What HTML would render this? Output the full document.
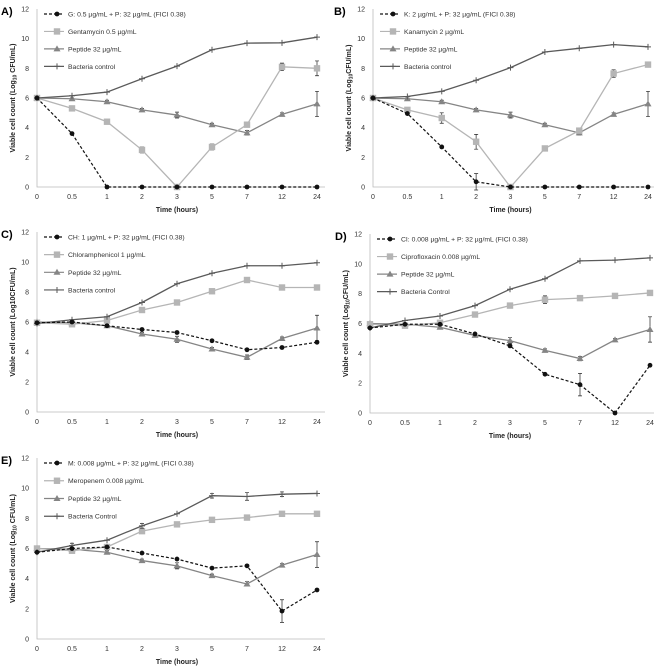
<!DOCTYPE html>
<html><head><meta charset="utf-8">
<style>
html,body{margin:0;padding:0;background:#fff;}
svg{display:block;font-family:"Liberation Sans",Arial,sans-serif;}
</style></head>
<body>
<svg id="fig" width="654" height="669" viewBox="0 0 654 669" xmlns="http://www.w3.org/2000/svg"></svg>
<script>
const categories = ["0","0.5","1","2","3","5","7","12","24"];
const yTicks = [0,2,4,6,8,10,12];
const peptideVals = [6,5.95,5.75,5.2,4.85,4.2,3.65,4.9,5.6];
const peptideErr = [0,0.05,0.1,0.1,0.2,0.1,0.15,0.1,0.85];

const aCombo = [6,3.6,0,0,0,0,0,0,0];
const aAnti = [6,5.3,4.4,2.5,0,2.7,4.2,8.1,8.0];
const aAntiErr = [0,0,0,0.2,0,0.2,0.15,0.25,0.5];
const aControl = [6,6.15,6.4,7.3,8.15,9.25,9.7,9.72,10.1];
const aComboErr = [0,0,0,0,0,0,0,0,0];

const bCombo = [6,4.95,2.7,0.35,0,0,0,0,0];
const bComboErr = [0,0,0,0.55,0,0,0,0,0];
const bAnti = [6,5.2,4.65,3.05,0,2.6,3.8,7.65,8.25];
const bAntiErr = [0,0,0.35,0.5,0,0.15,0.15,0.25,0.1];
const bControl = [6,6.1,6.45,7.2,8.05,9.1,9.35,9.6,9.45];

const cCombo = [5.95,6.0,5.75,5.5,5.3,4.75,4.15,4.3,4.65];
const cComboErr = [0,0,0,0,0,0,0,0,0];
const cAnti = [5.95,5.85,6.1,6.8,7.3,8.05,8.8,8.3,8.3];
const cAntiErr = [0,0.15,0,0,0,0,0.1,0,0];
const cControl = [5.9,6.15,6.35,7.3,8.55,9.25,9.75,9.75,9.95];

const dCombo = [5.7,5.95,5.95,5.3,4.5,2.6,1.9,0,3.2];
const dComboErr = [0,0,0,0,0,0,0.75,0,0];
const dAnti = [5.95,5.85,6.05,6.6,7.2,7.6,7.7,7.85,8.05];
const dAntiErr = [0,0,0,0.15,0,0.25,0,0,0];
const dControl = [5.7,6.2,6.5,7.2,8.3,9.0,10.2,10.25,10.4];

const eCombo = [5.75,6.0,6.1,5.7,5.3,4.7,4.85,1.85,3.25];
const eComboErr = [0,0,0,0,0,0,0,0.75,0];
const eAnti = [6.0,5.85,6.1,7.15,7.6,7.9,8.05,8.3,8.3];
const eAntiErr = [0,0,0,0,0.15,0,0,0,0];
const eControl = [5.75,6.2,6.55,7.5,8.3,9.5,9.45,9.6,9.65];
const eControlErr = [0,0.15,0,0.15,0,0.15,0.25,0.15,0];

const panels = [
 {id:"a",label:"A)",x0:37,x1:317,y0:187,y1:9,ytitle:["Viable cell count (Log","10"," CFU/mL)"],
  legend:["G: 0.5 µg/mL + P: 32 µg/mL (FICI 0.38)","Gentamycin 0.5 µg/mL","Peptide 32 µg/mL","Bacteria control"],
  combo:aCombo,comboErr:aComboErr,anti:aAnti,antiErr:aAntiErr,control:aControl,controlErr:null},
 {id:"b",label:"B)",x0:373,x1:648,y0:187,y1:9,ytitle:["Viable cell count (Log","10","CFU/mL)"],
  legend:["K: 2 µg/mL + P: 32 µg/mL (FICI 0.38)","Kanamycin 2 µg/mL","Peptide 32 µg/mL","Bacteria control"],
  combo:bCombo,comboErr:bComboErr,anti:bAnti,antiErr:bAntiErr,control:bControl,controlErr:null},
 {id:"c",label:"C)",x0:37,x1:317,y0:412,y1:232,ytitle:["Viable cell count (Log10CFU/mL)","",""],
  legend:["CH: 1 µg/mL + P: 32 µg/mL (FICI 0.38)","Chloramphenicol 1 µg/mL","Peptide 32 µg/mL","Bacteria control"],
  combo:cCombo,comboErr:cComboErr,anti:cAnti,antiErr:cAntiErr,control:cControl,controlErr:null},
 {id:"d",label:"D)",x0:370,x1:650,y0:413,y1:234,ytitle:["Viable cell count (Log","10","CFU/mL)"],
  legend:["CI: 0.008 µg/mL + P: 32 µg/mL (FICI 0.38)","Ciprofloxacin 0.008 µg/mL","Peptide 32 µg/mL","Bacteria Control"],
  combo:dCombo,comboErr:dComboErr,anti:dAnti,antiErr:dAntiErr,control:dControl,controlErr:null},
 {id:"e",label:"E)",x0:37,x1:317,y0:639,y1:458,ytitle:["Viable cell count (Log","10"," CFU/mL)"],
  legend:["M: 0.008 µg/mL + P: 32 µg/mL (FICI 0.38)","Meropenem 0.008 µg/mL","Peptide 32 µg/mL","Bacteria Control"],
  combo:eCombo,comboErr:eComboErr,anti:eAnti,antiErr:eAntiErr,control:eControl,controlErr:eControlErr}
];

const NS="http://www.w3.org/2000/svg";
const svg=document.getElementById("fig");
function mk(tag,attrs,parent){const e=document.createElementNS(NS,tag);for(const k in attrs)e.setAttribute(k,attrs[k]);(parent||svg).appendChild(e);return e;}

const COL={combo:"#111",anti:"#b5b5b5",pep:"#858585",ctrl:"#5a5a5a"};

function marker(g,type,x,y,c){
  let m;
  if(type==="combo"){m=mk("circle",{cx:x,cy:y,r:2.4,fill:c},g);}
  else if(type==="anti"){m=mk("rect",{x:x-3.2,y:y-3.2,width:6.4,height:6.4,fill:c},g);}
  else if(type==="pep"){m=mk("path",{d:`M${x},${y-3.5}L${x+3.5},${y+2.5}L${x-3.5},${y+2.5}Z`,fill:c},g);}
  else {m=mk("path",{d:`M${x-3},${y}H${x+3}M${x},${y-3}V${y+3}`,stroke:c,"stroke-width":1},g);}
  return m;
}

panels.forEach(p=>{
  const g=mk("g",{});
  
  
  const n=categories.length;
  const xs=i=>p.x0+i*(p.x1-p.x0)/(n-1);
  const ys=v=>p.y0+(p.y1-p.y0)*v/12;
  const lab=mk("text",{x:p.x0-37+(p.id==="b"||p.id==="d"?p.x0-37-(p.x0-37):0),y:p.y1+6,"font-size":11,"font-weight":"bold",fill:"#000"},g);
  lab.setAttribute('x', p.id==="b"?334:(p.id==="d"?335:1));
  lab.textContent=p.label;
  
  
  // axes
  const ax=mk("path",{d:`M${p.x0},${p.y1}V${p.y0}H${p.x1+8}`,stroke:"#bbb","stroke-width":0.8,fill:"none"},g);
  
  
  yTicks.forEach(t=>{
    const tx=mk("text",{x:p.x0-8,y:ys(t)+2.5,"font-size":7,"text-anchor":"end",fill:"#333"},g);
    tx.textContent=t;
    
    
  });
  categories.forEach((c,i)=>{
    const tx=mk("text",{x:xs(i),y:p.y0+12,"font-size":7,"text-anchor":"middle",fill:"#333"},g);
    tx.textContent=c;
    
    
  });
  const xt=mk("text",{x:(p.x0+p.x1)/2,y:p.y0+25,"font-size":7,"font-weight":"bold","text-anchor":"middle",fill:"#222"},g);
  xt.textContent="Time (hours)";
  
  
  const yt=mk("text",{x:0,y:0,"font-size":7,"font-weight":"bold","text-anchor":"middle",fill:"#222",transform:`translate(${p.x0-22},${(p.y0+p.y1)/2}) rotate(-90)`},g);
  
  
  const t1=mk("tspan",{},yt);t1.textContent=p.ytitle[0];
  if(p.ytitle[1]){const t2=mk("tspan",{"font-size":5,dy:1.5},yt);t2.textContent=p.ytitle[1];const t3=mk("tspan",{dy:-1.5},yt);t3.textContent=p.ytitle[2];}
  const series=[
    {key:"pep",vals:peptideVals,err:peptideErr,c:COL.pep,dash:null,w:1.3},
    {key:"anti",vals:p.anti,err:p.antiErr,c:COL.anti,dash:null,w:1.3},
    {key:"ctrl",vals:p.control,err:p.controlErr,c:COL.ctrl,dash:null,w:1.3},
    {key:"combo",vals:p.combo,err:p.comboErr,c:COL.combo,dash:"3,2",w:1.2}
  ];
  series.forEach(s=>{
    const sg=mk("g",{},g);
    
    
    if(s.err){s.vals.forEach((v,i)=>{const e=s.err[i];if(e>0){const x=xs(i);
      mk("path",{d:`M${x},${ys(v-e)}V${ys(v+e)}M${x-2},${ys(v-e)}H${x+2}M${x-2},${ys(v+e)}H${x+2}`,stroke:"#222","stroke-width":0.7,fill:"none"},sg);}});}
    const d=s.vals.map((v,i)=>(i?"L":"M")+xs(i)+","+ys(v)).join("");
    const ln=mk("path",{d:d,stroke:s.c,"stroke-width":s.w,fill:"none"},sg);
    if(s.dash)ln.setAttribute("stroke-dasharray",s.dash);
    
    
    s.vals.forEach((v,i)=>{const m=marker(sg,s.key,xs(i),ys(v),s.c);
      
      });
  });
  // legend
  const keys=["combo","anti","pep","ctrl"];
  const cols=[COL.combo,COL.anti,COL.pep,COL.ctrl];
  const sp=(p.y0-p.y1)/10.2;
  keys.forEach((k,j)=>{
    const lg=mk("g",{},g);
    
    
    const lx=p.x0+7, ly=p.y1+5+j*sp;
    const l=mk("path",{d:`M${lx},${ly}H${lx+20}`,stroke:cols[j],"stroke-width":1.2},lg);
    if(k==="combo")l.setAttribute("stroke-dasharray","3,2");
    marker(lg,k,lx+13,ly,cols[j]);
    const tx=mk("text",{x:lx+24,y:ly+2.5,"font-size":6.8,fill:"#333"},lg);
    tx.textContent=p.legend[j];
  });
});
</script>
</body></html>
